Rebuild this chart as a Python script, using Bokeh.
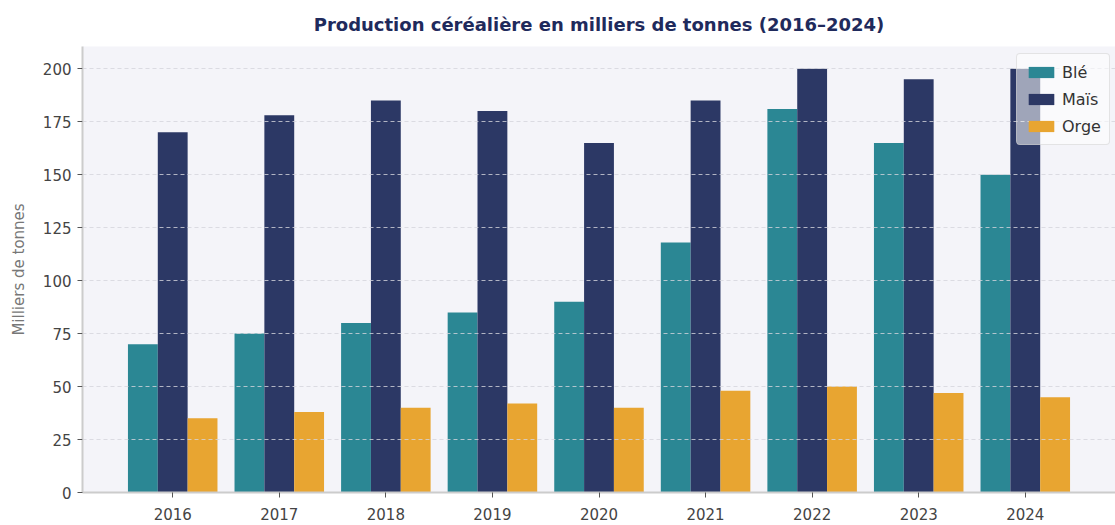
from bokeh.plotting import figure
from bokeh.models import ColumnDataSource, FactorRange, Legend, LegendItem, SingleIntervalTicker, Title
from bokeh.transform import dodge
from bokeh.embed import file_html
from bokeh.resources import INLINE

years = ["2016", "2017", "2018", "2019", "2020", "2021", "2022", "2023", "2024"]
ble = [70, 75, 80, 85, 90, 118, 181, 165, 150]
mais = [170, 178, 185, 180, 165, 185, 200, 195, 200]
orge = [35, 38, 40, 42, 40, 48, 50, 47, 45]
series_names = ["Blé", "Maïs", "Orge"]
colors = ["#2b8794", "#2c3865", "#e8a531"]

source = ColumnDataSource(dict(years=years, ble=ble, mais=mais, orge=orge))

FONT = "DejaVu Sans"

p = figure(
    x_range=FactorRange(*years, range_padding=0.077),
    y_range=(0, 210.5),
    width=1115, height=525,
    frame_width=1033, frame_height=446,
    min_border_left=82, min_border_right=0, min_border_top=46, min_border_bottom=33,
    output_backend="svg", toolbar_location=None,
    background_fill_color="#f4f4f9", border_fill_color="white",
)
p.outline_line_color = None

p.title = Title(text="Production céréalière en milliers de tonnes (2016–2024)",
                align="center", text_font=FONT, text_font_size="18px",
                text_font_style="bold", text_color="#1f2a5c", offset=0, standoff=23)

w = 0.28
r1 = p.vbar(x=dodge("years", -w, range=p.x_range), top="ble", width=w, source=source,
            fill_color=colors[0], line_color=None)
r2 = p.vbar(x=dodge("years", 0, range=p.x_range), top="mais", width=w, source=source,
            fill_color=colors[1], line_color=None)
r3 = p.vbar(x=dodge("years", w, range=p.x_range), top="orge", width=w, source=source,
            fill_color=colors[2], line_color=None)

p.yaxis.ticker = SingleIntervalTicker(interval=25)
p.yaxis.axis_label = "Milliers de tonnes"
p.yaxis.axis_label_text_font = FONT
p.yaxis.axis_label_text_font_size = "15px"
p.yaxis.axis_label_text_font_style = "normal"
p.yaxis.axis_label_text_color = "#777777"
p.yaxis.axis_label_standoff = 12

for ax in (p.xaxis, p.yaxis):
    ax.major_label_text_font = FONT
    ax.major_label_text_font_size = "15px"
    ax.major_label_text_color = "#444444"
    ax.axis_line_color = "#cccccc"
    ax.axis_line_width = 2
    ax.major_tick_line_color = "#555555"
    ax.major_tick_out = 5
    ax.major_tick_in = 0
    ax.minor_tick_line_color = None
p.xaxis.major_label_standoff = 10
p.yaxis.major_label_standoff = 6

p.xgrid.grid_line_color = None
p.ygrid.grid_line_color = "#d5d5dc"
p.ygrid.grid_line_alpha = 0.8
p.ygrid.grid_line_dash = "4 3"
p.ygrid.level = "overlay"

legend = Legend(items=[LegendItem(label=series_names[0], renderers=[r1]),
                       LegendItem(label=series_names[1], renderers=[r2]),
                       LegendItem(label=series_names[2], renderers=[r3])],
                location=(934, 347))
legend.label_text_font = FONT
legend.label_text_font_size = "16px"
legend.label_text_color = "#333333"
legend.glyph_width = 32
legend.glyph_height = 14
legend.label_height = 20
legend.spacing = 7
legend.padding = 8
legend.background_fill_color = "white"
legend.background_fill_alpha = 0.55
legend.border_line_color = "#cccccc"
legend.border_radius = 4
p.add_layout(legend)

open("out.html", "w").write(file_html(p, INLINE))
